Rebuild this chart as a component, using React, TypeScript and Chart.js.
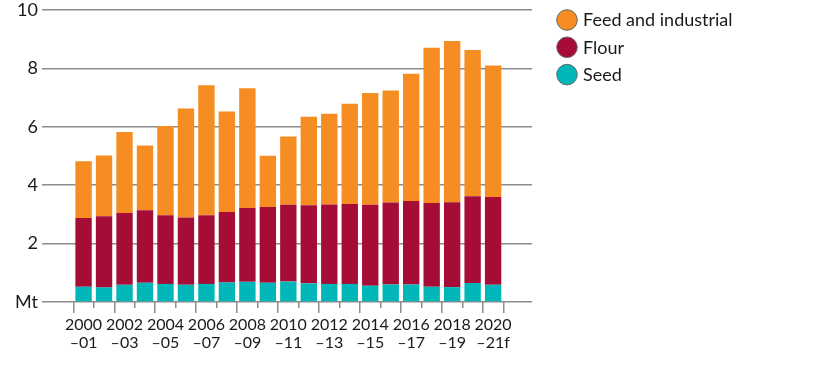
import React, { useEffect, useRef } from 'react';
import { Chart, registerables } from 'chart.js';

Chart.register(...registerables);

const categories = [
  '2000–01', '2001–02', '2002–03', '2003–04', '2004–05', '2005–06', '2006–07',
  '2007–08', '2008–09', '2009–10', '2010–11', '2011–12', '2012–13', '2013–14',
  '2014–15', '2015–16', '2016–17', '2017–18', '2018–19', '2019–20', '2020–21f',
];
const seed = [0.52, 0.5, 0.59, 0.66, 0.62, 0.59, 0.62, 0.67, 0.69, 0.66, 0.7, 0.64, 0.62, 0.62, 0.56, 0.6, 0.6, 0.52, 0.51, 0.65, 0.59];
const flour = [2.36, 2.44, 2.46, 2.48, 2.35, 2.3, 2.35, 2.41, 2.53, 2.59, 2.63, 2.67, 2.72, 2.74, 2.77, 2.81, 2.86, 2.87, 2.91, 2.97, 3.01];
const feed = [1.94, 2.08, 2.77, 2.22, 3.06, 3.74, 4.45, 3.44, 4.1, 1.76, 2.34, 3.03, 3.11, 3.43, 3.83, 3.83, 4.36, 5.32, 5.52, 5.01, 4.5];
const yTicks = [0, 2, 4, 6, 8, 10];
const yUnit = 'Mt';

const FONT = 'Lato, "Open Sans", sans-serif';
const TEXT = '#1a1a1a';
const GRID = '#8c8c8c';

const legendPlugin = {
  id: 'sideLegend',
  afterDraw(chart: any) {
    const ctx = chart.ctx;
    const ds = chart.data.datasets.slice().reverse();
    ctx.save();
    ds.forEach((d: any, i: number) => {
      const cx = 567;
      const cy = 20 + i * 27.3;
      ctx.beginPath();
      ctx.arc(cx, cy, 10.3, 0, Math.PI * 2);
      ctx.fillStyle = d.backgroundColor;
      ctx.fill();
      ctx.lineWidth = 1;
      ctx.strokeStyle = '#666';
      ctx.stroke();
      ctx.font = `18px ${FONT}`;
      ctx.fillStyle = TEXT;
      ctx.textBaseline = 'middle';
      ctx.textAlign = 'left';
      ctx.fillText(d.label, 583, cy + 0.5);
    });
    ctx.restore();
  },
};

export default function App() {
  const ref = useRef<HTMLCanvasElement>(null);
  useEffect(() => {
    const toPts = (arr: number[]) => arr.map((v, i) => ({ x: i, y: v }));
    const chart = new Chart(ref.current as HTMLCanvasElement, {
      type: 'bar',
      data: {
        datasets: [
          { label: 'Seed', data: toPts(seed) as any, backgroundColor: '#00B6B9' },
          { label: 'Flour', data: toPts(flour) as any, backgroundColor: '#A50D37' },
          { label: 'Feed and industrial', data: toPts(feed) as any, backgroundColor: '#F58D22' },
        ],
      },
      options: {
        responsive: false,
        animation: false,
        layout: { padding: { top: 10, right: 284, left: 0, bottom: 0 } },
        plugins: { legend: { display: false }, tooltip: { enabled: false } },
        datasets: { bar: { categoryPercentage: 0.8, barPercentage: 1, borderWidth: 0 } } as any,
        scales: {
          x: {
            type: 'linear',
            stacked: true,
            min: -2.03,
            max: 21.9,
            offset: false,
            afterBuildTicks: (s: any) => {
              s.ticks = categories.map((_, i) => ({ value: i }));
            },
            afterFit: (s: any) => {
              s.height = 64;
              s.paddingLeft = 0;
              s.paddingRight = 0;
            },
            grid: {
              drawOnChartArea: false,
              drawTicks: true,
              tickLength: 11,
              color: GRID,
              lineWidth: 1.5,
              tickBorderDash: (c: any) => (c.index % 2 ? [6, 40] : []),
            } as any,
            border: { display: false },
            ticks: {
              autoSkip: false,
              maxRotation: 0,
              minRotation: 0,
              padding: 3,
              color: TEXT,
              font: { family: FONT, size: 16, lineHeight: 1.12 },
              callback: (v: any) => {
                const i = Math.round(Number(v));
                if (i % 2 || !categories[i]) return '';
                const [a, b] = categories[i].split('–');
                return [a, '–' + b];
              },
            },
          },
          y: {
            stacked: true,
            min: 0,
            max: 10,
            afterFit: (s: any) => {
              s.width = 42;
              s.paddingTop = 0;
              s.paddingBottom = 0;
            },
            afterBuildTicks: (s: any) => {
              s.ticks = yTicks.map((v) => ({ value: v }));
            },
            grid: { drawTicks: false, color: GRID, lineWidth: 1.5 },
            border: { display: false },
            ticks: {
              padding: 4,
              color: TEXT,
              font: { family: FONT, size: 18, lineHeight: 1 },
              callback: (v: any) => (Number(v) === 0 ? yUnit : String(v)),
            },
          },
        },
      },
      plugins: [legendPlugin],
    });
    return () => chart.destroy();
  }, []);
  return (
    <div style={{ position: 'absolute', left: 0, top: 0, width: 816, height: 366, background: '#fff' }}>
      <canvas ref={ref} width={816} height={366} style={{ display: 'block' }} />
    </div>
  );
}
